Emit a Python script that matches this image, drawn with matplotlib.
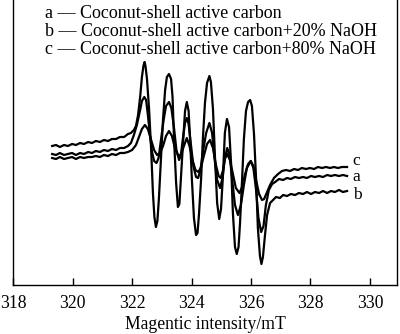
import matplotlib
matplotlib.use("Agg")
import matplotlib.pyplot as plt

plt.rcParams['font.family'] = ['Liberation Serif', 'DejaVu Serif']

base_x = [319.31, 319.44, 319.57, 319.71, 319.84, 319.98, 320.11, 320.25, 320.38, 320.52,
          320.65, 320.78, 320.92, 321.05, 321.19, 321.32, 321.46, 321.59, 321.73, 321.86]
tail_x = [327.08, 327.21, 327.34, 327.48, 327.61, 327.75, 327.88, 328.02, 328.15, 328.29,
          328.42, 328.56, 328.69, 328.82, 328.96, 329.09, 329.23]

# curve b (largest signal)
b_x = base_x + [321.96, 322.06, 322.13, 322.20, 322.27, 322.33, 322.38, 322.42, 322.45, 322.50,
                322.57, 322.64, 322.70, 322.75, 322.80, 322.85, 322.90, 322.97, 323.04, 323.11,
                323.17, 323.24, 323.31, 323.36, 323.41, 323.48, 323.54, 323.59, 323.64, 323.71,
                323.78, 323.84, 323.90, 323.95, 324.01, 324.08, 324.15, 324.20, 324.25, 324.32,
                324.38, 324.45, 324.52, 324.60, 324.65, 324.72, 324.79, 324.86, 324.93, 324.99,
                325.06, 325.12, 325.19, 325.26, 325.33, 325.39, 325.46, 325.52, 325.58, 325.63,
                325.70, 325.76, 325.83, 325.90, 325.97, 326.03, 326.10, 326.17, 326.23, 326.30,
                326.35, 326.40, 326.47, 326.54, 326.64, 326.74, 326.84, 326.97] + tail_x
b_y = [139, 140, 138, 140, 139, 141, 140, 142, 141, 143, 142, 144, 143, 145, 144, 146, 146, 148, 148, 151,
       152, 155, 159, 170, 188, 208, 219, 223, 219, 206,
       176, 136, 92, 68, 58, 64, 86, 126, 166, 195,
       208, 211, 206, 188, 146, 102, 78, 81, 106, 141,
       174, 183, 174, 146, 106, 67, 50, 52, 71, 106,
       146, 182, 202, 209, 203, 176, 126, 82, 66, 76,
       112, 152, 166, 158, 121, 72, 38, 31, 38, 62,
       106, 146, 174, 183, 185, 179, 151, 106, 57, 29,
       21, 28, 50, 70, 82, 85, 88, 87,
       90, 89, 91, 90, 92, 91, 93, 91, 93, 92, 94, 92, 94, 93, 95, 93, 94]

# curve a (medium signal)
a_x = base_x + [321.96, 322.06, 322.16, 322.27, 322.33, 322.41, 322.47, 322.53, 322.60, 322.67,
                322.74, 322.82, 322.89, 322.97, 323.06, 323.14, 323.24, 323.32, 323.41, 323.49,
                323.58, 323.64, 323.71, 323.78, 323.84, 323.90, 323.98, 324.06, 324.15, 324.22,
                324.30, 324.38, 324.49, 324.60, 324.69, 324.77, 324.86, 324.96, 325.04, 325.12,
                325.20, 325.28, 325.36, 325.46, 325.56, 325.66, 325.76, 325.86, 325.99, 326.08,
                326.17, 326.25, 326.34, 326.42, 326.50, 326.60, 326.71, 326.81, 326.94] + tail_x
a_y = [131, 130, 132, 130, 131, 132, 130, 132, 131, 133, 132, 134, 133, 135, 134, 136, 135, 137, 137, 139,
       142, 150, 160, 175, 184, 188, 185, 170, 150, 133,
       124, 122, 127, 145, 165, 179, 183, 177, 157, 135,
       125, 130, 147, 162, 167, 161, 140, 119, 108, 107,
       115, 133, 152, 162, 152, 127, 105, 97, 107, 127,
       137, 130, 107, 80, 70, 80, 100, 117, 124, 117,
       95, 67, 53, 59, 80, 95, 101, 103, 106,
       105, 107, 106, 108, 107, 108, 107, 109, 108, 109, 108, 110, 109, 110, 109, 110, 109]

# curve c (smallest signal)
c_x = base_x + [322.00, 322.13, 322.23, 322.33, 322.43, 322.53, 322.64, 322.74, 322.84, 322.94,
                323.04, 323.14, 323.24, 323.34, 323.44, 323.54, 323.64, 323.73, 323.84, 323.93,
                324.03, 324.13, 324.23, 324.32, 324.42, 324.52, 324.62, 324.72, 324.82, 324.91,
                324.98, 325.06, 325.12, 325.20, 325.29, 325.39, 325.49, 325.61, 325.70, 325.80,
                325.90, 325.99, 326.08, 326.17, 326.27, 326.37, 326.44, 326.54, 326.64, 326.77,
                326.91, 327.04, 327.18, 327.31, 327.45, 327.58, 327.71, 327.85, 327.98, 328.12,
                328.25, 328.39, 328.52, 328.66, 328.79, 328.92, 329.06, 329.23]
c_y = [127, 126, 128, 126, 127, 128, 126, 128, 127, 128, 128, 129, 128, 130, 129, 131, 130, 132, 132, 133,
       135, 140, 148, 156, 160, 156, 145, 135, 130, 132,
       139, 149, 154, 149, 137, 130, 130, 138, 147, 139,
       125, 115, 113, 118, 130, 141, 145, 137, 120, 109,
       107, 115, 126, 131, 125, 111, 97, 92, 98, 111,
       121, 124, 119, 105, 91, 85, 86, 93, 100, 107,
       111, 114, 115, 114, 116, 115, 117, 116, 117, 116,
       118, 117, 118, 117, 118, 117, 118, 118]

legend_labels = ["a \u2014 Coconut-shell active carbon",
                 "b \u2014 Coconut-shell active carbon+20% NaOH",
                 "c \u2014 Coconut-shell active carbon+80% NaOH"]
end_labels = ["c", "a", "b"]
end_label_y = [124, 108, 90]
xticks = [318, 320, 322, 324, 326, 328, 330]

fig = plt.figure(figsize=(4.0, 3.34), dpi=100)
ax = fig.add_axes([0.033, 0.1467, 0.9595, 0.8533])

for xs, ys in [(b_x, b_y), (a_x, a_y), (c_x, c_y)]:
    ax.plot(xs, ys, color='black', lw=1.6, solid_joinstyle='round')

for lab, yy in zip(end_labels, end_label_y):
    ax.text(329.42, yy, lab, fontsize=12.5, va='center', ha='left')

for i, lab in enumerate(legend_labels):
    ax.text(0.083, 0.951 - i * 0.0615, lab, transform=ax.transAxes,
            fontsize=13, va='center', ha='left')

ax.set_xlim(318, 330.91)
ax.set_ylim(0, 285)
ax.set_xticks(xticks)
ax.set_yticks([])
ax.tick_params(axis='x', direction='in', length=5, width=1, labelsize=12.7, pad=7)
ax.spines['top'].set_visible(False)
for s in ['left', 'right', 'bottom']:
    ax.spines[s].set_linewidth(1.0)
ax.set_xlabel("Magentic intensity/mT", fontsize=12.7, labelpad=3)

fig.savefig("out.png", dpi=100)
